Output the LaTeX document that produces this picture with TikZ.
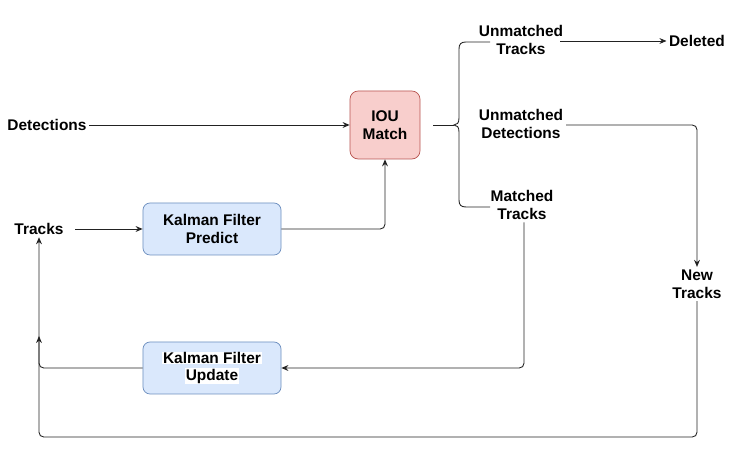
\documentclass[tikz,border=0pt]{standalone}
\usepackage{fontspec}
\setmainfont{Liberation Sans}
\usetikzlibrary{arrows.meta}
\definecolor{pinkfill}{HTML}{F8CECC}
\definecolor{pinkline}{HTML}{B85450}
\definecolor{bluefill}{HTML}{DAE8FC}
\definecolor{blueline}{HTML}{6C8EBF}
\definecolor{linec}{HTML}{222222}
\begin{document}
\begin{tikzpicture}[x=0.03cm,y=-0.03cm,
  txt/.style={font=\fontsize{13.2}{15.6}\selectfont\bfseries, align=center, inner sep=2pt, text=black},
  iousty/.style={txt, draw=pinkline, fill=pinkfill, rounded corners=7pt, minimum width=2.1cm, minimum height=2.04cm, line width=0.6pt},
  kfsty/.style={txt, draw=blueline, fill=bluefill, rounded corners=6pt, minimum width=4.14cm, minimum height=1.56cm, line width=0.6pt},
  conn/.style={draw=linec, line width=0.75pt, rounded corners=4pt},
  arr/.style={conn, -{Stealth[length=6pt,width=5pt,inset=2pt]}}
]
\useasboundingbox (0,0) rectangle (743,458);
\fill[white] (0,0) rectangle (743,458);

\node[txt] (det) at (47,125) {Detections};
\node[txt] (tracks) at (39,229) {Tracks};
\node[iousty] (iou) at (385,125) {IOU\\Match};
\node[kfsty] (kfp) at (212,229) {Kalman Filter\\Predict};
\node[kfsty] (kfu) at (212,368) {\setlength{\fboxsep}{0.5pt}\colorbox{white}{Kalman Filter}\\[-1.5pt]\setlength{\fboxsep}{0.5pt}\colorbox{white}{Update}};
\node[txt] (umt) at (521,40) {Unmatched\\Tracks};
\node[txt] (del) at (697,41) {Deleted};
\node[txt] (umd) at (521,124) {Unmatched\\Detections};
\node[txt] (mt) at (522,205) {Matched\\Tracks};
\node[txt] (newt) at (697,284) {New\\Tracks};

\coordinate (bin) at (433,125);
\coordinate (btip) at (454,125);
\coordinate (bl) at (39,437);
\coordinate (ua) at (39,336);

% detections to IOU
\draw[arr] (det.east) -- (iou.west);
% tracks to predict
\draw[arr] ([xshift=8pt]tracks.east) -- (kfp.west);
% predict to IOU
\draw[arr] (kfp.east) -| (iou.south);
% brace
\draw[conn, rounded corners=0pt] (bin) -- (btip);
\draw[conn, rounded corners=0pt] (490,42) -- (466,42) .. controls (461,42) and (459,44) .. (459,49)
  -- (459,118) .. controls (459,123) and (457,125) .. (btip)
  .. controls (457,125) and (459,127) .. (459,132)
  -- (459,200) .. controls (459,205) and (461,207) .. (466,207) -- (490,207);
% unmatched tracks to deleted
\draw[arr] (560,41) -- (del.west);
% unmatched detections to new tracks
\draw[arr] (566,125) -| (newt.north);
% matched tracks to update
\draw[arr] (mt.south -| 524,0) |- (kfu.east);
% new tracks loop back to tracks
\draw[arr] (newt.south) |- (bl) -- (tracks.south);
% update to tracks
\draw[arr] (kfu.west) -| (ua);
\end{tikzpicture}
\end{document}
